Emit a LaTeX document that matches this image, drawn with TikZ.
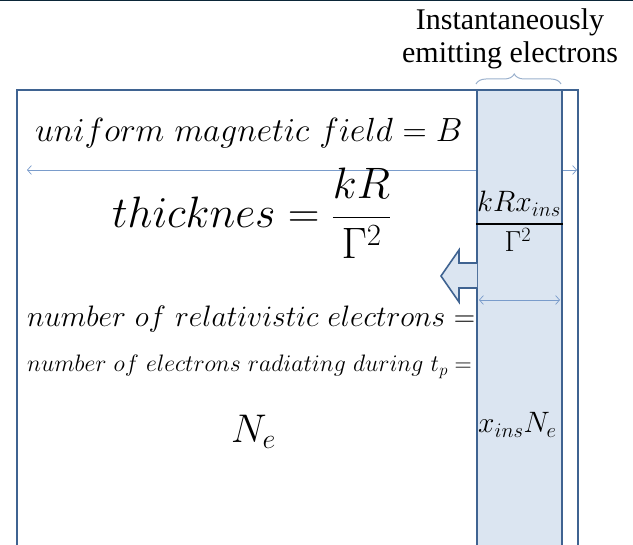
\RequirePackage{fix-cm}
\documentclass[tikz,border=0pt]{standalone}
\usepackage{fontspec}
\newfontfamily\capfont{Liberation Serif}
\usetikzlibrary{arrows.meta, decorations.pathreplacing}

\definecolor{edgeblue}{HTML}{3F6391}
\definecolor{layerfill}{HTML}{DBE5F1}
\definecolor{thinblue}{HTML}{7A9CCB}
\definecolor{bracegray}{HTML}{9AB0CC}
\definecolor{topline}{HTML}{0B2638}

\begin{document}
\begin{tikzpicture}[x=1pt, y=-1pt,
    txt/.style={inner sep=0pt, anchor=base west},
    wall/.style={draw=edgeblue, line width=1.6pt},
    measure/.style={{Straight Barb[length=4pt,width=9pt]}-{Straight Barb[length=4pt,width=9pt]},
                    draw=thinblue, line width=0.7pt},
    capt/.style={inner sep=0pt, font=\capfont\fontsize{30}{34}\selectfont},
]
    \useasboundingbox (0,0) rectangle (633,545);
    \clip (0,0) rectangle (633,545);
    \draw[topline, line width=2pt] (0,0) -- (633,0);

    % frame of the region
    \draw[wall] (17,560) -- (17,90) -- (578,90) -- (578,560);
    \coordinate (fieldL) at (27,170);
    \coordinate (fieldR) at (577,170);
    \draw[measure] (fieldL) -- (fieldR);

    % thin layer of emitting electrons
    \draw[wall, fill=layerfill] (477,560) -- (477,90) -- (562,90) -- (562,560);
    \draw[wall, fill=layerfill] (477,263) -- (459,263) -- (459,250) -- (441,276)
        -- (459,302) -- (459,288) -- (477,288);
    \coordinate (layerL) at (479,300);
    \coordinate (layerR) at (560,300);
    \draw[measure] (layerL) -- (layerR);
    \coordinate (ruleL) at (476,224);
    \coordinate (ruleR) at (563,224);
    \draw[line width=1.4pt] (ruleL) -- (ruleR);

    \node[capt] (cap1) at (510,22) {Instantaneously};
    \node[capt] (cap2) at (510,55) {emitting electrons};
    \draw[bracegray, line width=1pt, decorate, decoration={brace, amplitude=10pt, aspect=0.45}]
        (476,84) -- (561,84);

    \node[txt, font=\fontsize{33.5}{36}\selectfont] (field) at (35,142)
        {$uniform\ magnetic\ field = B$};
    \node[txt, font=\fontsize{44}{48}\selectfont] (thick) at (112,228)
        {$\displaystyle thicknes = \frac{kR}{\Gamma^2}$};
    \node[txt, font=\fontsize{29.6}{32}\selectfont] (nrel) at (27,327)
        {$number\ of\ relativistic\ electrons =$};
    \node[txt, font=\fontsize{23.8}{26}\selectfont] (nrad) at (27,372)
        {$number\ of\ electrons\ radiating\ during\ t_p =$};
    \node[txt, font=\fontsize{40}{44}\selectfont] (ne) at (231,443) {$N_e$};

    \node[txt, font=\fontsize{29.5}{32}\selectfont] (num) at (477,212) {$kRx_{ins}$};
    \node[inner sep=0pt, anchor=base, font=\fontsize{29}{32}\selectfont] (den) at (518,252) {$\Gamma^2$};
    \node[txt, font=\fontsize{29.5}{32}\selectfont] (xne) at (478,433) {$x_{ins}N_e$};
\end{tikzpicture}
\end{document}
